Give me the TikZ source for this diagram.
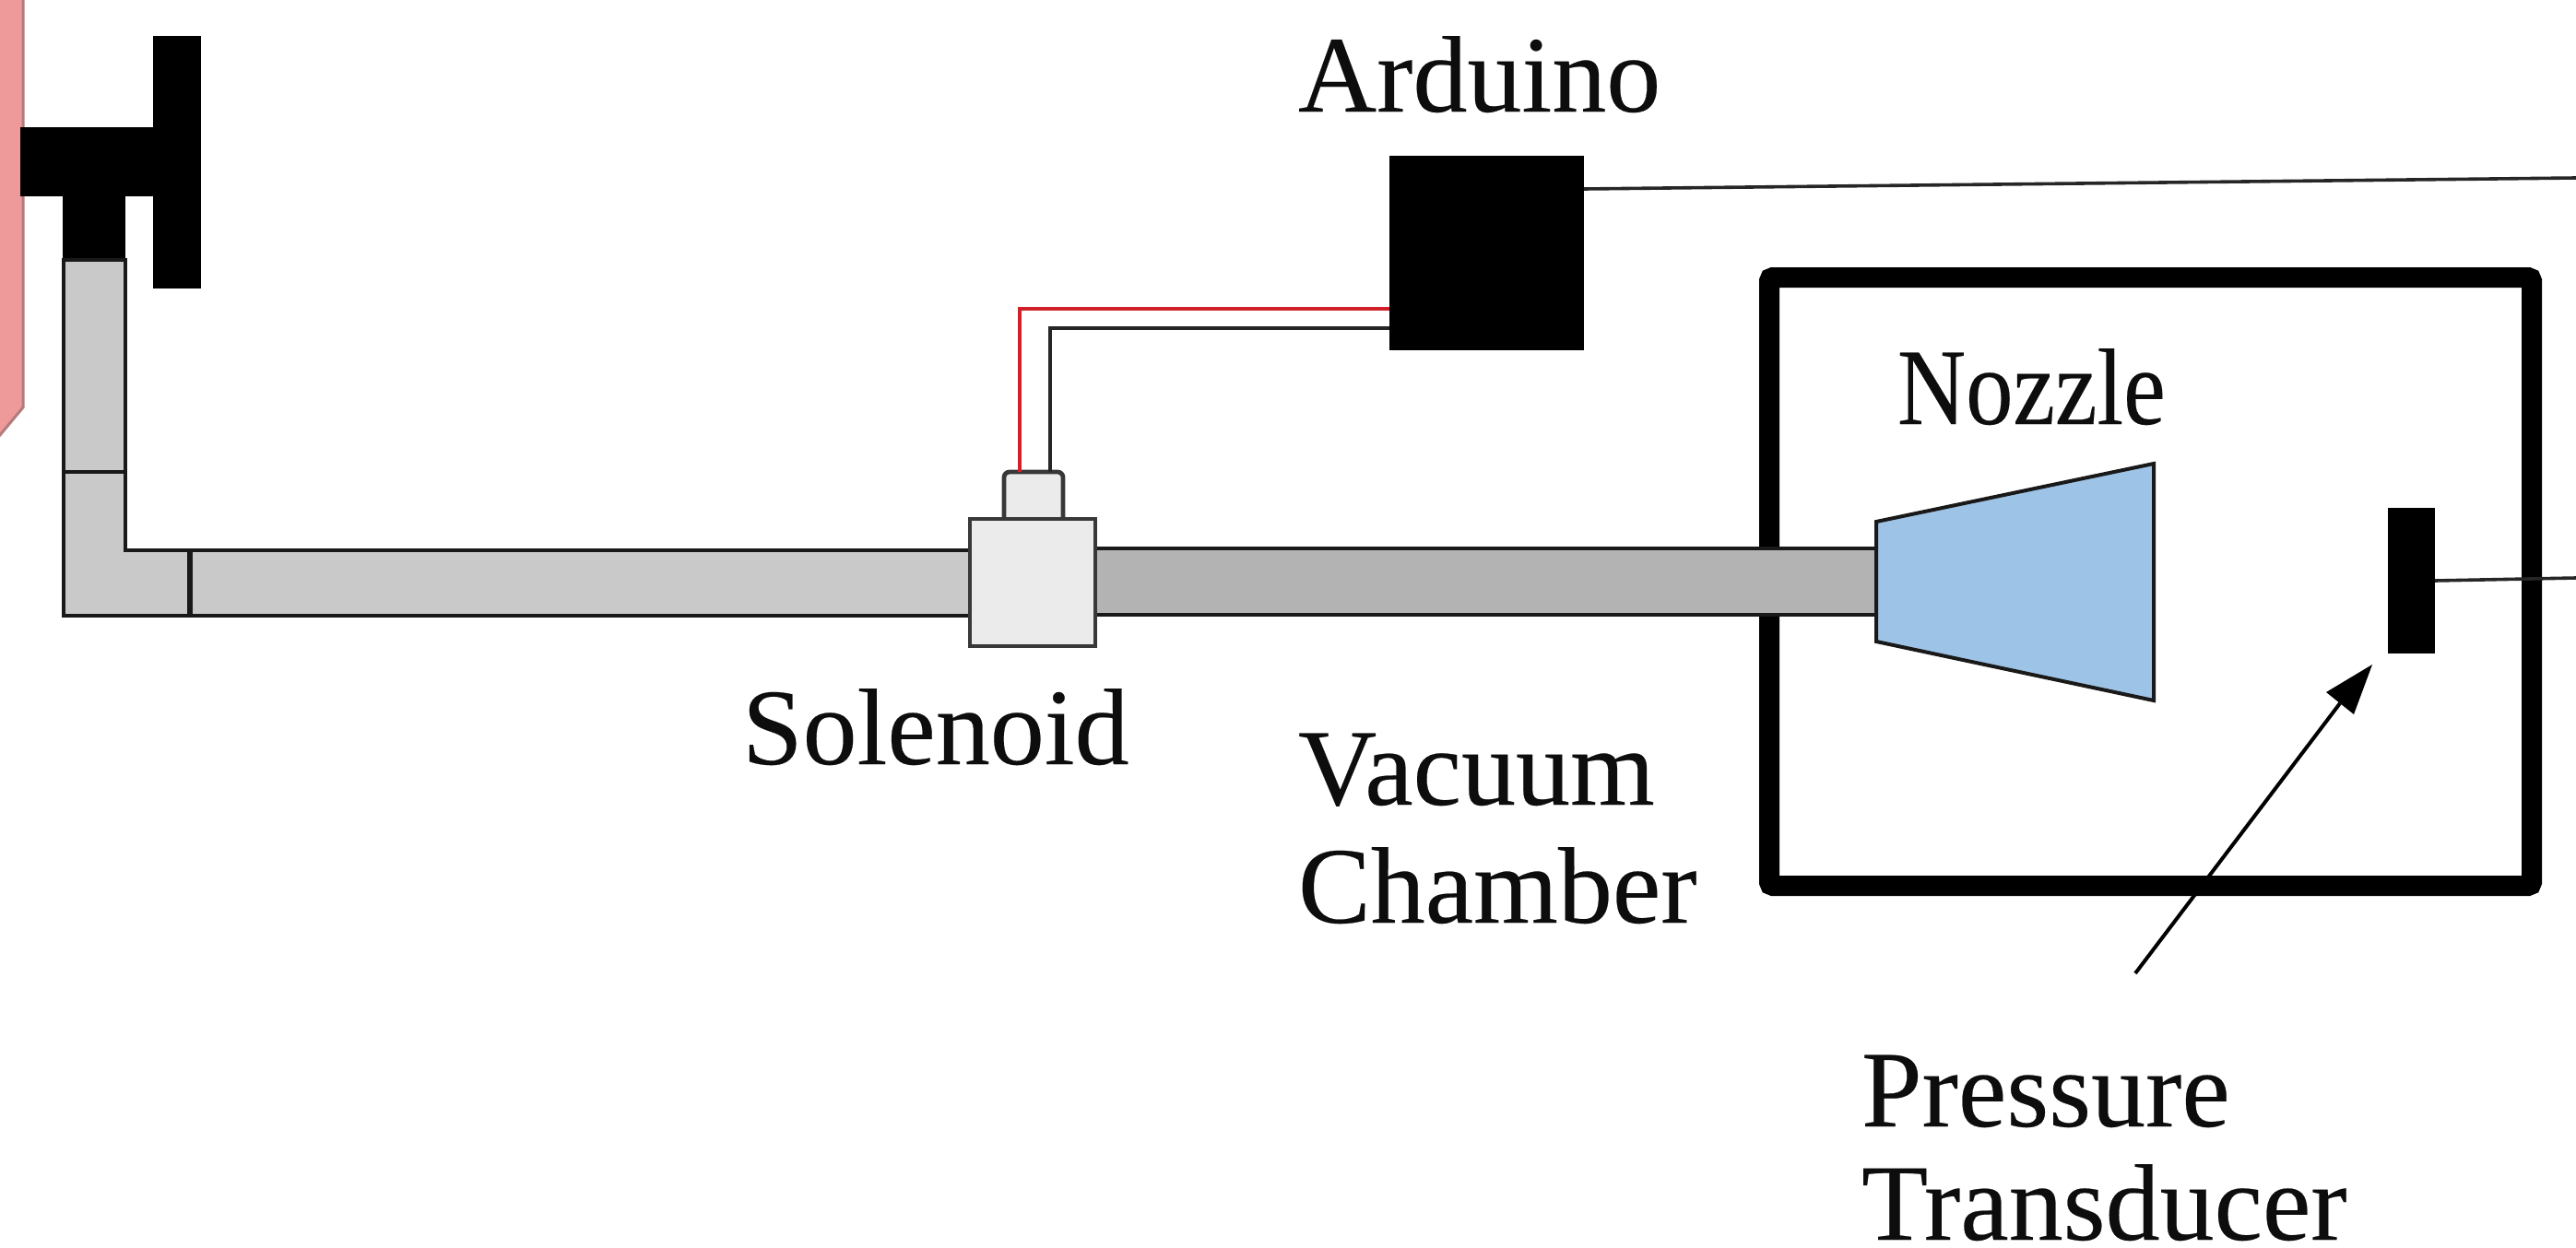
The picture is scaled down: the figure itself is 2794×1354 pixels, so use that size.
\documentclass[tikz,border=0pt]{standalone}
\usepackage{fontspec}
\setmainfont[FakeBold=0.2]{Liberation Serif}
\definecolor{pipeL}{HTML}{C9C9C9}
\definecolor{pipeD}{HTML}{B3B3B3}
\definecolor{sol}{HTML}{EBEBEB}
\definecolor{noz}{HTML}{9DC3E6}
\definecolor{pinkF}{HTML}{EE9A9A}
\definecolor{pinkE}{HTML}{B07C7C}
\definecolor{redW}{HTML}{D0202A}
\tikzset{
  outline/.style={draw=black!90,line width=2.4pt,line join=miter},
  solid black/.style={draw=none,fill=black,inner sep=0pt,outer sep=0pt},
  lab/.style={inner sep=0pt,outer sep=0pt,anchor=base west,font=\fontsize{59}{64}\selectfont,text=black!95},
  wire/.style={line width=2pt,line join=miter},
}
\begin{document}
\begin{tikzpicture}[x=0.5pt,y=-0.5pt]
\useasboundingbox (0,0) rectangle (2794,1354);
% tank
\path[fill=pinkF,draw=pinkE,line width=1.5pt] (-5,-5) -- (25,-5) -- (25,442) -- (-5,478) -- cycle;
% valve
\fill[black] (22,138) rectangle (218,213);
\fill[black] (166,39) rectangle (218,313);
\fill[black] (68,213) rectangle (136,284);
% upstream line
\draw[outline,fill=pipeL] (69,282) rectangle (136,512);
\draw[outline,fill=pipeL] (69,512) -- (136,512) -- (136,597) -- (206,597) -- (206,668) -- (69,668) -- cycle;
\draw[outline,fill=pipeL] (206,597) rectangle (1052,668);
\draw[draw=black!90,line width=3pt] (206,597) -- (206,668);
% chamber
\draw[black,line width=11pt,rounded corners=2pt] (1919,301) rectangle (2746,961);
% downstream pipe
\draw[outline,fill=pipeD] (1188,595) rectangle (2036,667);
% nozzle
\draw[line width=2pt,draw=black!90,fill=noz] (2035,566) -- (2336,503) -- (2336,760) -- (2035,696) -- cycle;
% solenoid
\draw[line width=2.4pt,draw=black!78,fill=sol,rounded corners=3pt] (1089,562) -- (1089,512) -- (1153,512) -- (1153,562);
\node[draw=black!78,line width=2.4pt,fill=sol,inner sep=0pt,outer sep=0pt,minimum width=68pt,minimum height=69pt] (solenoid) at (1120,632) {};
\coordinate (capR) at (1106,512);
\coordinate (capB) at (1138.5,512);
% arduino
\node[solid black,minimum width=105.5pt,minimum height=105.5pt] (arduino) at (1612.5,274.5) {};
\coordinate (redEnd) at (arduino.west |- 0,335);
\coordinate (blkEnd) at (arduino.west |- 0,356);
\draw[wire,draw=redW] (capR) -- (1106,335) -- (redEnd);
\draw[wire,draw=black!85] (capB) -- (1138.5,356) -- (blkEnd);
\coordinate (sigA) at (2794,193);
\draw[line width=1.8pt,draw=black!85] (arduino.east |- 0,205) -- (sigA);
% transducer
\node[solid black,minimum width=25.5pt,minimum height=79pt] (transducer) at (2615.5,630) {};
\coordinate (sigB) at (2794,627);
\draw[line width=1.8pt,draw=black!85] (transducer.east) -- (sigB);
% arrow
\coordinate (arrTail) at (2316,1056);
\coordinate (arrTip) at (2573,721);
\fill[black] (2573,721) -- (2523,751) -- (2553,775) -- cycle;
\draw[line width=2pt,draw=black] (arrTail) -- (2538,763);
% labels
\node[lab] (tArduino) at (1408,121) {Arduino};
\node[lab] (tNozzle) at (2058,460) {\scalebox{0.87}[1]{Nozzle}};
\node[lab] (tSolenoid) at (805,829) {Solenoid};
\node[lab] (tVacuum) at (1408,873) {Vacuum};
\node[lab] (tChamber) at (1408,1001) {Chamber};
\node[lab] (tPressure) at (2019,1222) {Pressure};
\node[lab] (tTransducer) at (2019,1345) {Transducer};
\end{tikzpicture}
\end{document}
